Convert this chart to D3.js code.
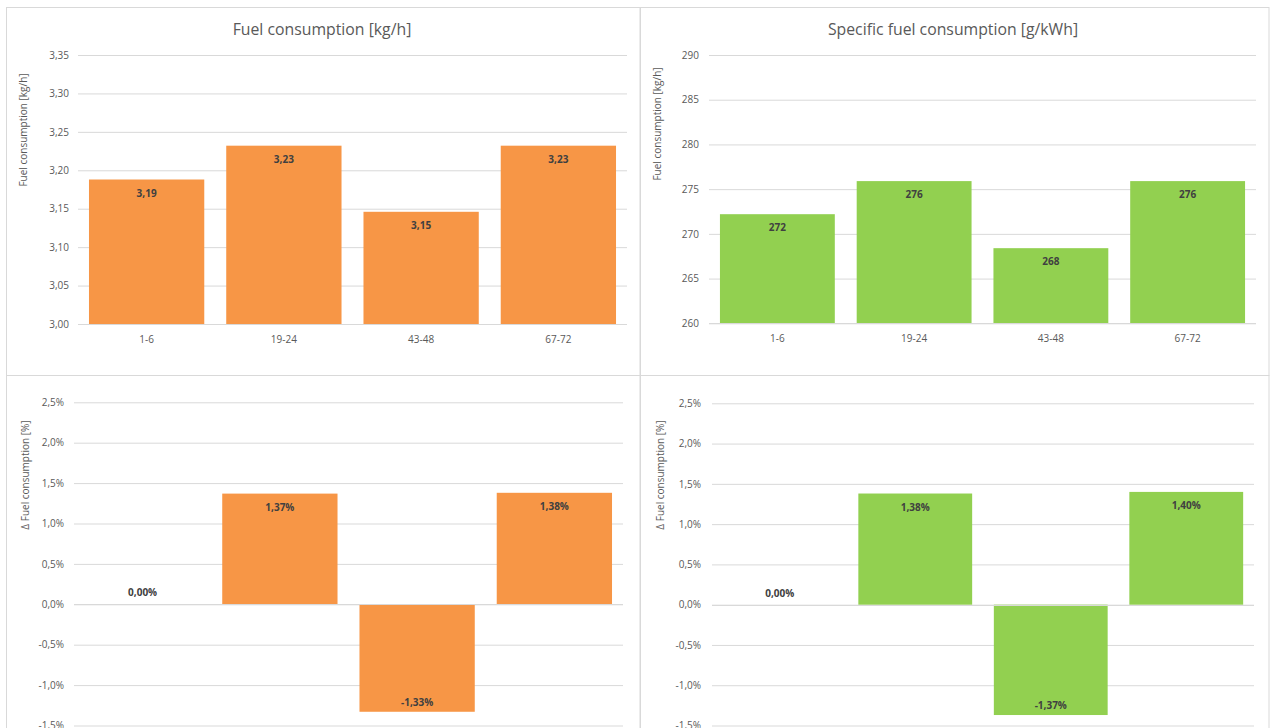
<!DOCTYPE html>
<html>
<head>
<meta charset="utf-8">
<script src="https://cdn.jsdelivr.net/npm/d3@7/dist/d3.min.js"></script>
<style>
  html, body { margin: 0; padding: 0; background: #ffffff; }
  svg { display: block; }
  text { font-family: "Open Sans", "Liberation Sans", sans-serif; }
</style>
</head>
<body>
<svg id="chart" width="1274" height="728"></svg>
<script>
// Test intervals (cylinder groups)
const categories = ["1-6", "19-24", "43-48", "67-72"];

// Absolute fuel consumption [kg/h]
const fuelRate = [3.188, 3.232, 3.146, 3.232];
const fuelRateTicks = [3.00, 3.05, 3.10, 3.15, 3.20, 3.25, 3.30, 3.35];

// Specific fuel consumption [g/kWh]
const specificFuel = [272.2, 275.9, 268.4, 275.9];
const specificFuelTicks = [260, 265, 270, 275, 280, 285, 290];

// Change relative to the first interval [%]
const fuelRateDelta = [0.00, 1.37, -1.33, 1.38];
const specificFuelDelta = [0.00, 1.38, -1.37, 1.40];
const deltaTicks = [-1.5, -1.0, -0.5, 0.0, 0.5, 1.0, 1.5, 2.0, 2.5];

const ORANGE = "#F79646";
const GREEN = "#92D050";
const GRID = "#d9d9d9";
const AXIS_TEXT = "#595959";
const LABEL_TEXT = "#404040";

const comma = (n, d) => n.toFixed(d).replace(".", ",");

const svg = d3.select("#chart");

// Chart frames
const frames = [
  { x: 6.5, y: 7.5, w: 633.5, h: 368 },
  { x: 640.5, y: 7.5, w: 628.5, h: 368 },
  { x: 6.5, y: 375.5, w: 633.5, h: 400 },
  { x: 640.5, y: 375.5, w: 628.5, h: 400 }
];
frames.forEach(f => {
  svg.append("rect")
    .attr("x", f.x).attr("y", f.y).attr("width", f.w).attr("height", f.h)
    .attr("fill", "#ffffff").attr("stroke", GRID).attr("stroke-width", 1);
});

function drawPanel(opt) {
  const g = svg.append("g");
  const x = d3.scaleBand()
    .domain(categories)
    .range([opt.left, opt.right])
    .paddingInner(0.16)
    .paddingOuter(0.08);
  const y = d3.scaleLinear()
    .domain(opt.domain)
    .range([opt.bottom, opt.top]);

  // Gridlines and tick labels
  const yAxis = d3.axisLeft(y)
    .tickValues(opt.ticks)
    .tickSize(-(opt.right - opt.left))
    .tickPadding(opt.tickPad)
    .tickFormat(opt.tickFormat);
  const ya = g.append("g")
    .attr("transform", `translate(${opt.left},0)`)
    .call(yAxis);
  ya.select(".domain").remove();
  ya.selectAll(".tick line").attr("stroke", GRID).attr("stroke-width", 1);
  ya.selectAll(".tick text")
    .attr("fill", AXIS_TEXT)
    .style("font-size", "10px");

  // Bars
  const base = opt.base !== undefined ? opt.base : opt.domain[0];
  g.selectAll("rect.bar")
    .data(opt.values)
    .join("rect")
    .attr("class", "bar")
    .attr("x", (d, i) => x(categories[i]))
    .attr("width", x.bandwidth())
    .attr("y", d => Math.min(y(d), y(base)))
    .attr("height", d => Math.abs(y(d) - y(base)))
    .attr("fill", opt.color);

  // Zero / baseline line drawn over the bars
  g.append("line")
    .attr("x1", opt.left).attr("x2", opt.right)
    .attr("y1", Math.round(y(base)) + 0.5).attr("y2", Math.round(y(base)) + 0.5)
    .attr("stroke", GRID).attr("stroke-width", 1);

  // Value labels
  g.selectAll("text.val")
    .data(opt.values)
    .join("text")
    .attr("class", "val")
    .attr("x", (d, i) => x(categories[i]) + x.bandwidth() / 2)
    .attr("y", d => {
      if (d === 0) return y(base) - 8;
      return d > 0 ? y(d) + 17 : y(d) - 6;
    })
    .attr("text-anchor", "middle")
    .attr("fill", LABEL_TEXT)
    .style("font-size", "10px")
    .style("font-weight", "bold")
    .text(opt.labelFormat);

  // Category labels
  if (opt.showCategories) {
    g.selectAll("text.cat")
      .data(categories)
      .join("text")
      .attr("class", "cat")
      .attr("x", d => x(d) + x.bandwidth() / 2)
      .attr("y", opt.bottom + 19)
      .attr("text-anchor", "middle")
      .attr("fill", AXIS_TEXT)
      .style("font-size", "10px")
      .text(d => d);
  }

  // Chart title
  if (opt.title) {
    g.append("text")
      .attr("x", opt.titleX)
      .attr("y", 34.5)
      .attr("text-anchor", "middle")
      .attr("fill", AXIS_TEXT)
      .style("font-size", "15.8px")
      .text(opt.title);
  }

  // Vertical axis title
  g.append("text")
    .attr("transform", `translate(${opt.axisTitleX},${opt.axisTitleY}) rotate(-90)`)
    .attr("text-anchor", "middle")
    .attr("fill", AXIS_TEXT)
    .style("font-size", "10px")
    .text(opt.axisTitle);
}

drawPanel({
  values: fuelRate, ticks: fuelRateTicks, domain: [3.00, 3.35],
  left: 78, right: 627, top: 55, bottom: 324, tickPad: 9,
  tickFormat: d => comma(d, 2), labelFormat: d => comma(d, 2),
  color: ORANGE, showCategories: true,
  title: "Fuel consumption [kg/h]", titleX: 322,
  axisTitle: "Fuel consumption [kg/h]", axisTitleX: 27, axisTitleY: 130
});

drawPanel({
  values: specificFuel, ticks: specificFuelTicks, domain: [260, 290],
  left: 709, right: 1256, top: 55, bottom: 323.3, tickPad: 10,
  tickFormat: d => d3.format("d")(d), labelFormat: d => d3.format(".0f")(d),
  color: GREEN, showCategories: true,
  title: "Specific fuel consumption [g/kWh]", titleX: 953,
  axisTitle: "Fuel consumption [kg/h]", axisTitleX: 661, axisTitleY: 124
});

drawPanel({
  values: fuelRateDelta, ticks: deltaTicks, domain: [-1.5, 2.5], base: 0,
  left: 74, right: 623, top: 402.3, bottom: 725.5, tickPad: 10,
  tickFormat: d => comma(d, 1) + "%", labelFormat: d => comma(d, 2) + "%",
  color: ORANGE, showCategories: false,
  axisTitle: "Δ Fuel consumption [%]", axisTitleX: 29, axisTitleY: 475
});

drawPanel({
  values: specificFuelDelta, ticks: deltaTicks, domain: [-1.5, 2.5], base: 0,
  left: 712, right: 1254, top: 403.3, bottom: 725.5, tickPad: 11,
  tickFormat: d => comma(d, 1) + "%", labelFormat: d => comma(d, 2) + "%",
  color: GREEN, showCategories: false,
  axisTitle: "Δ Fuel consumption [%]", axisTitleX: 664, axisTitleY: 475
});
</script>
</body>
</html>
